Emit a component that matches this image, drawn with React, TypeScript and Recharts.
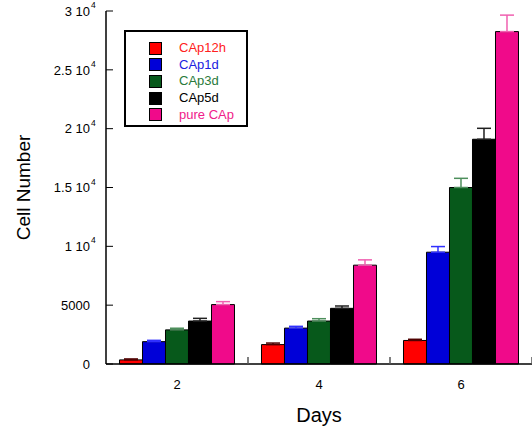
import React from 'react';
import { ComposedChart, Bar, XAxis, YAxis, ErrorBar, Legend } from 'recharts';

const days = ['2', '4', '6'];
const seriesNames = ['CAp12h', 'CAp1d', 'CAp3d', 'CAp5d', 'pure CAp'];
const seriesColors = ['#ff0000', '#0000d8', '#07591b', '#000000', '#f00a8a'];
const errorColors = ['#500000', '#3030ff', '#4d8f5c', '#202020', '#f060b0'];
const textColors = ['#ff2020', '#2020e0', '#2a7a3a', '#000000', '#f0208a'];

const cap12h = [350, 1650, 2000];
const cap1d = [1900, 3050, 9500];
const cap3d = [2900, 3650, 15000];
const cap5d = [3650, 4730, 19100];
const pureCap = [5050, 8400, 28250];

const err12h = [80, 130, 100];
const err1d = [110, 150, 480];
const err3d = [140, 200, 780];
const err5d = [230, 200, 930];
const errPure = [250, 450, 1400];

const yTicks = [0, 5000, 10000, 15000, 20000, 25000, 30000];
const yTickLabels = ['0', '5000', '1 10^4', '1.5 10^4', '2 10^4', '2.5 10^4', '3 10^4'];

const values = [cap12h, cap1d, cap3d, cap5d, pureCap];
const errors = [err12h, err1d, err3d, err5d, errPure];

const data = days.map((d, i) => {
  const row: any = { day: d };
  values.forEach((v, s) => {
    row['s' + s] = v[i];
    row['e' + s] = [0, errors[s][i]];
  });
  return row;
});

const FONT = '"Liberation Sans", Arial, sans-serif';

const YTick = (props: any) => {
  const { x, y, payload } = props;
  const idx = yTicks.indexOf(payload.value);
  const label = yTickLabels[idx] ?? String(payload.value);
  const [main, sup] = label.split('^');
  return (
    <g>
      <line x1={x} x2={x + 7} y1={y} y2={y} stroke="#000" strokeWidth={1} />
      <text x={x - 16} y={y} dy="0.36em" textAnchor="end" fontSize={13} fontFamily={FONT} fill="#000">
        {main}
      </text>
      {sup && (
        <text x={x - 15} y={y - 3} textAnchor="start" fontSize={8.5} fontFamily={FONT} fill="#000">
          {sup}
        </text>
      )}
    </g>
  );
};

const XTick = (props: any) => {
  const { x, y, payload, index, visibleTicksCount, width } = props;
  const band = width / visibleTicksCount;
  const left = x - band / 2;
  const right = x + band / 2;
  const isLast = index === visibleTicksCount - 1;
  return (
    <g>
      {index > 0 && <line x1={left} x2={left} y1={y} y2={y - 7} stroke="#555" strokeWidth={1.5} />}
      {isLast && <line x1={right} x2={right} y1={y} y2={y - 7} stroke="#555" strokeWidth={1.5} />}
      <text x={x} y={y + 20} dy="0.36em" textAnchor="middle" fontSize={13} fontFamily={FONT} fill="#000">
        {payload.value}
      </text>
    </g>
  );
};

const LegendContent = () => (
  <div
    style={{
      width: 120,
      height: 93,
      border: '2px solid #000',
      background: '#fff',
      boxSizing: 'content-box',
      fontFamily: FONT,
      fontSize: 13,
    }}
  >
    {seriesNames.map((n, i) => (
      <div key={n} style={{ display: 'flex', alignItems: 'center', height: 16.6, marginTop: i === 0 ? 8 : 0 }}>
        <div
          style={{
            width: 11,
            height: 11,
            background: seriesColors[i],
            border: '1px solid #000',
            marginLeft: 23,
            marginRight: 17,
          }}
        />
        <span style={{ color: textColors[i], lineHeight: '16px' }}>{n}</span>
      </div>
    ))}
  </div>
);

export default function App() {
  return (
    <div style={{ position: 'absolute', left: 0, top: 0, background: '#fff' }}>
      <ComposedChart
        width={532}
        height={427}
        data={data}
        margin={{ top: 11, right: 0, bottom: 0, left: 0 }}
        barCategoryGap="9.5%"
        barGap={0}
      >
        <XAxis
          dataKey="day"
          height={63}
          axisLine={{ stroke: '#000', strokeWidth: 1.5 }}
          tickLine={false}
          tickSize={0}
          tickMargin={0}
          tick={<XTick />}
          label={{
            content: (p: any) => {
              const vb = p.viewBox;
              return (
                <text x={vb.x + vb.width / 2} y={vb.y + 51} dy="0.36em" textAnchor="middle" fontSize={20} fontFamily={FONT} fill="#000">
                  Days
                </text>
              );
            },
          }}
        />
        <YAxis
          width={106}
          domain={[0, 30000]}
          ticks={yTicks}
          interval={0}
          axisLine={{ stroke: '#000', strokeWidth: 1.5 }}
          tickLine={false}
          tickSize={0}
          tickMargin={0}
          tick={<YTick />}
          label={{
            content: (p: any) => {
              const vb = p.viewBox;
              const cx = 23;
              const cy = vb.y + vb.height / 2;
              return (
                <text x={cx} y={cy} dy="0.36em" textAnchor="middle" fontSize={19} fontFamily={FONT} fill="#000" transform={`rotate(-90 ${cx} ${cy})`}>
                  Cell Number
                </text>
              );
            },
          }}
        />
        <Legend
          layout="vertical"
          align="center"
          verticalAlign="middle"
          wrapperStyle={{ left: 124, top: 30, width: 'auto' }}
          content={<LegendContent />}
        />
        {seriesNames.map((n, s) => (
          <Bar
            key={n}
            dataKey={'s' + s}
            name={n}
            fill={seriesColors[s]}
            stroke="#000"
            strokeWidth={1}
            isAnimationActive={false}
          >
            <ErrorBar dataKey={'e' + s} direction="y" width={7} stroke={errorColors[s]} strokeWidth={1.5} />
          </Bar>
        ))}
      </ComposedChart>
    </div>
  );
}
